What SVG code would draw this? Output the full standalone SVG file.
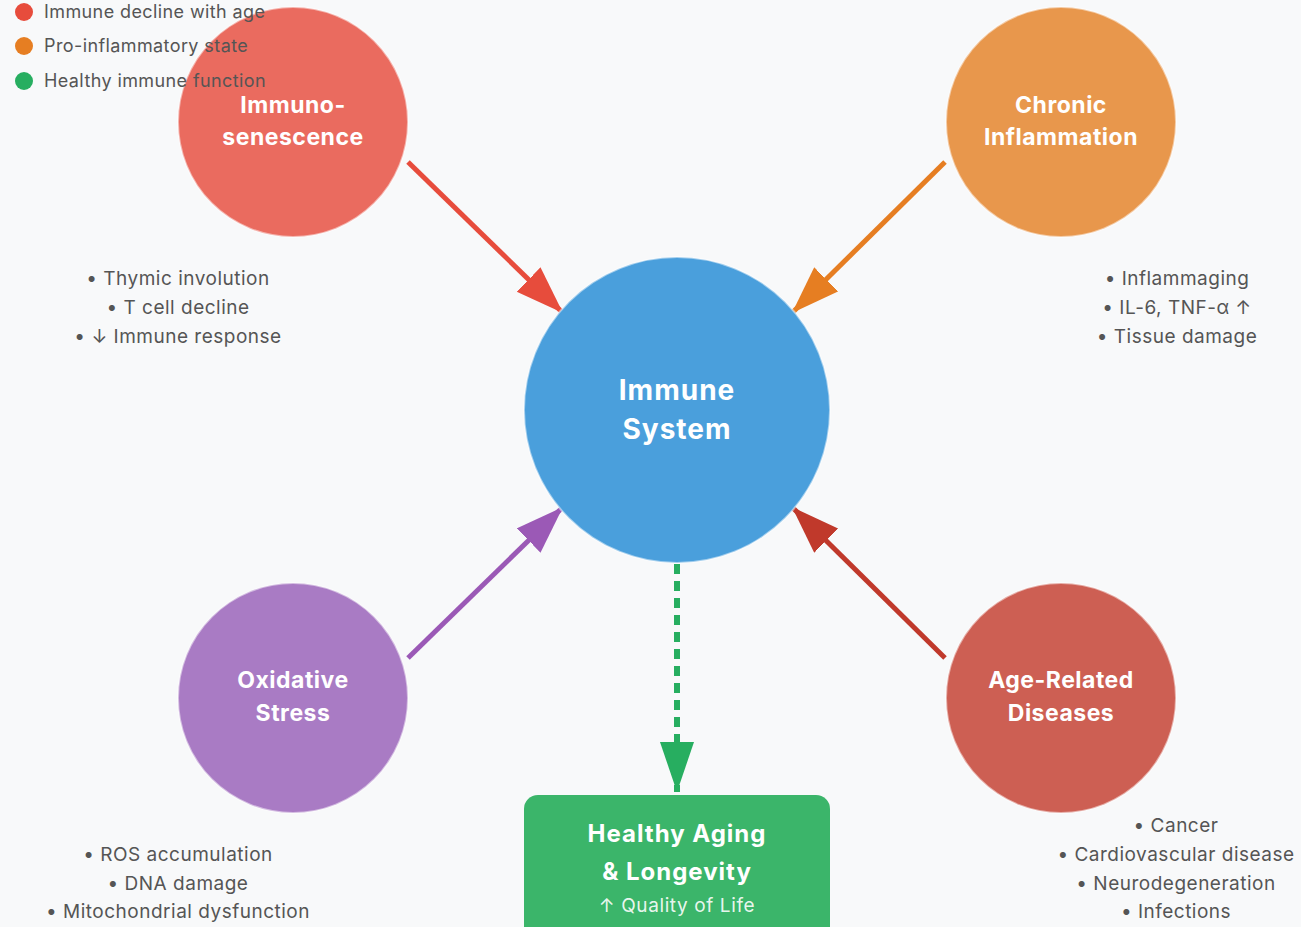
<svg xmlns="http://www.w3.org/2000/svg" width="1301" height="927" viewBox="0 0 1301 927">
<defs>
<style>
.lbl{font-family:Inter,"Liberation Sans",sans-serif;font-weight:700;fill:#fff;text-anchor:middle;letter-spacing:0.5px}
.big{letter-spacing:1px}
.desc{font-family:Inter,"Liberation Sans",sans-serif;font-size:19px;fill:#555;text-anchor:middle;letter-spacing:0.5px}
.leg{font-family:Inter,"Liberation Sans",sans-serif;font-size:18px;fill:#555;letter-spacing:0.4px}
.node{stroke:#fff;stroke-opacity:0.5;stroke-width:2}
</style>
<marker id="aRed" markerUnits="userSpaceOnUse" markerWidth="50" markerHeight="36" refX="48" refY="17" orient="auto"><path d="M0,0 L48,17 L0,34 z" fill="#e74c3c"/></marker>
<marker id="aOrange" markerUnits="userSpaceOnUse" markerWidth="50" markerHeight="36" refX="48" refY="17" orient="auto"><path d="M0,0 L48,17 L0,34 z" fill="#e67e22"/></marker>
<marker id="aPurple" markerUnits="userSpaceOnUse" markerWidth="50" markerHeight="36" refX="48" refY="17" orient="auto"><path d="M0,0 L48,17 L0,34 z" fill="#9b59b6"/></marker>
<marker id="aDark" markerUnits="userSpaceOnUse" markerWidth="50" markerHeight="36" refX="48" refY="17" orient="auto"><path d="M0,0 L48,17 L0,34 z" fill="#c0392b"/></marker>
<marker id="aGreen" markerUnits="userSpaceOnUse" markerWidth="52" markerHeight="36" refX="50" refY="17" orient="auto"><path d="M0,0 L50,17 L0,34 z" fill="#27ae60"/></marker>
</defs>
<rect width="1301" height="927" fill="#f8f9fa"/>
<g id="connectors" fill="none">
<line x1="408" y1="162" x2="563" y2="313" stroke="#e74c3c" stroke-width="5" marker-end="url(#aRed)"/>
<line x1="945" y1="162" x2="792" y2="313" stroke="#e67e22" stroke-width="5" marker-end="url(#aOrange)"/>
<line x1="408" y1="658" x2="563" y2="507" stroke="#9b59b6" stroke-width="5" marker-end="url(#aPurple)"/>
<line x1="945" y1="658" x2="792" y2="507" stroke="#c0392b" stroke-width="5" marker-end="url(#aDark)"/>
<line x1="677" y1="564" x2="677" y2="792" stroke="#27ae60" stroke-width="6" stroke-dasharray="10,7" marker-end="url(#aGreen)"/>
</g>
<g id="immune-system">
<circle class="node" cx="677" cy="410" r="153" fill="#4a9fdc"/>
<text class="lbl big" x="677" y="400" font-size="28">Immune</text>
<text class="lbl big" x="677" y="439" font-size="28">System</text>
</g>
<g id="immunosenescence">
<circle class="node" cx="293" cy="122" r="115" fill="#ea6b5f"/>
<text class="lbl" x="293" y="113" font-size="23">Immuno-</text>
<text class="lbl" x="293" y="145" font-size="23">senescence</text>
<text class="desc" x="178" y="285">• Thymic involution</text>
<text class="desc" x="178" y="314">• T cell decline</text>
<text class="desc" x="178" y="343">• ↓ Immune response</text>
</g>
<g id="chronic-inflammation">
<circle class="node" cx="1061" cy="122" r="115" fill="#e8974c"/>
<text class="lbl" x="1061" y="113" font-size="23">Chronic</text>
<text class="lbl" x="1061" y="145" font-size="23">Inflammation</text>
<text class="desc" x="1177" y="285">• Inflammaging</text>
<text class="desc" x="1177" y="314">• IL-6, TNF-α ↑</text>
<text class="desc" x="1177" y="343">• Tissue damage</text>
</g>
<g id="oxidative-stress">
<circle class="node" cx="293" cy="698" r="115" fill="#a97bc4"/>
<text class="lbl" x="293" y="688" font-size="23">Oxidative</text>
<text class="lbl" x="293" y="721" font-size="23">Stress</text>
<text class="desc" x="178" y="861">• ROS accumulation</text>
<text class="desc" x="178" y="890">• DNA damage</text>
<text class="desc" x="178" y="918">• Mitochondrial dysfunction</text>
</g>
<g id="age-related-diseases">
<circle class="node" cx="1061" cy="698" r="115" fill="#cd5f53"/>
<text class="lbl" x="1061" y="688" font-size="23">Age-Related</text>
<text class="lbl" x="1061" y="721" font-size="23">Diseases</text>
<text class="desc" x="1176" y="832">• Cancer</text>
<text class="desc" x="1176" y="861">• Cardiovascular disease</text>
<text class="desc" x="1176" y="890">• Neurodegeneration</text>
<text class="desc" x="1176" y="918">• Infections</text>
</g>
<g id="healthy-aging">
<rect x="524" y="795" width="306" height="150" rx="14" fill="#3bb56a"/>
<text class="lbl big" x="677" y="842" font-size="24">Healthy Aging</text>
<text class="lbl big" x="677" y="880" font-size="24">&amp; Longevity</text>
<text x="677" y="912" font-family="Inter,'Liberation Sans',sans-serif" font-size="19" letter-spacing="0.6" fill="#fff" fill-opacity="0.9" text-anchor="middle">↑ Quality of Life</text>
</g>
<g id="legend">
<circle cx="24" cy="12" r="9" fill="#e74c3c"/>
<text class="leg" x="44" y="18">Immune decline with age</text>
<circle cx="24" cy="46" r="9" fill="#e67e22"/>
<text class="leg" x="44" y="52">Pro-inflammatory state</text>
<circle cx="24" cy="81" r="9" fill="#27ae60"/>
<text class="leg" x="44" y="87">Healthy immune function</text>
</g>
</svg>
